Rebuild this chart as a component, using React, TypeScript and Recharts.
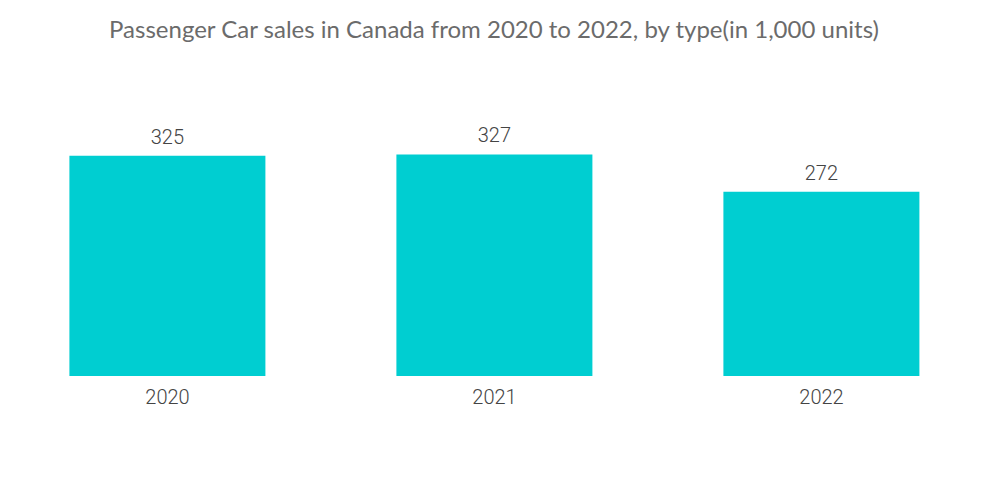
import { Bar, BarChart, LabelList, XAxis, YAxis } from "recharts";

const years = ["2020", "2021", "2022"];
const sales = [325, 327, 272];

const data = years.map((year, i) => ({ year, sales: sales[i] }));

const labelFont = { fontSize: 20, fill: "#444", fontFamily: "Roboto", fontWeight: 300 };

export default function App() {
  return (
    <div style={{ position: "absolute", left: 0, top: 0, width: 1000, height: 504, background: "#fff" }}>
      <div
        style={{
          position: "absolute",
          top: 14,
          left: 0,
          width: 988,
          textAlign: "center",
          fontFamily: "Lato, 'Open Sans', sans-serif",
          fontSize: 24,
          color: "#6b6b6b",
        }}
      >
        Passenger Car sales in Canada from 2020 to 2022, by type(in 1,000 units)
      </div>
      <BarChart
        width={1000}
        height={504}
        data={data}
        margin={{ top: 105, right: 15, left: 4, bottom: 0 }}
        barCategoryGap="20%"
      >
        <XAxis
          dataKey="year"
          axisLine={false}
          tickLine={false}
          height={128}
          tickMargin={8}
          tick={labelFont}
        />
        <YAxis hide domain={[0, 400]} />
        <Bar dataKey="sales" fill="#00CED1" isAnimationActive={false}>
          <LabelList dataKey="sales" position="top" offset={12} style={labelFont} />
        </Bar>
      </BarChart>
    </div>
  );
}
